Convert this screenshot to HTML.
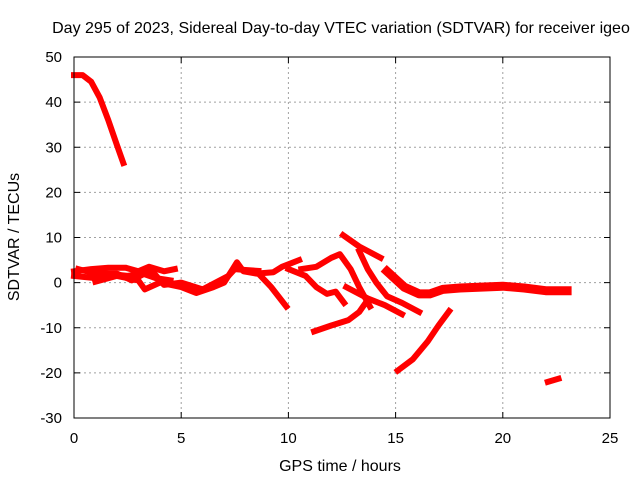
<!DOCTYPE html>
<html><head><meta charset="utf-8"><style>
body{margin:0;background:#fff}
svg text{font-family:"Liberation Sans",sans-serif;font-size:15px;fill:#000}
svg text.big{font-size:16px}
</style></head><body>
<svg id="chart" width="640" height="480" xmlns="http://www.w3.org/2000/svg">
<text class="big" x="341" y="33" text-anchor="middle">Day 295 of 2023, Sidereal Day-to-day VTEC variation (SDTVAR) for receiver igeo</text>
<text class="big" x="340" y="471" text-anchor="middle">GPS time / hours</text>
<text class="big" transform="translate(19,237) rotate(-90)" text-anchor="middle">SDTVAR / TECUs</text>
<g id="grid"></g>
<g id="series"></g>
<rect x="74" y="57" width="536" height="361" fill="none" stroke="#000" stroke-width="1"/>
<g id="ticks"></g>
</svg>
<script>
const xTicks=[0,5,10,15,20,25];
const yTicks=[-30,-20,-10,0,10,20,30,40,50];
const trackTop=[[0,46],[0.4,46],[0.8,44.5],[1.2,41],[1.6,36],[2.0,30.5],[2.3,26.5]];
const trackBandUpper=[[0,2.5],[0.8,3],[1.6,3.3],[2.4,3.3],[3,2.5],[3.5,3.5],[4.2,2.5],[4.7,3]];
const trackBandMid=[[0,1.5],[1,1],[1.5,2],[2.5,1.5],[3.2,2],[3.8,1],[4.5,0.5]];
const trackBandLower=[[1,0.2],[2,1.5],[3,0.5],[3.3,-1.5],[4,0],[5,-1],[5.7,-2.3],[6.5,-1],[7,0],[7.4,3],[7.6,4.5],[7.9,2.5],[8.5,2],[9.3,2.3],[9.7,3.5],[10.5,5]];
const trackBandExtra=[[0.2,3],[1,2],[2,2],[2.7,0.5],[3.6,2.8],[4.2,-0.5],[5,0],[6,-1.5],[6.8,0.5],[7.2,1.5],[7.5,3],[8,2.8],[8.6,2.6]];
const trackBranch1=[[8.6,2],[9.2,-1],[9.9,-5.3]];
const trackBranch2=[[10,3],[10.8,1.5],[11.3,-1],[11.8,-2.5],[12.2,-2],[12.6,-4.5]];
const trackBranch3=[[10.6,3],[11.3,3.5],[12.0,5.5],[12.4,6.3],[12.9,3],[13.3,-1],[13.8,-5.3]];
const trackBranch4=[[12.55,10.5],[13.3,8],[14.3,5.5]];
const trackBranch5=[[13.3,7],[13.7,3],[14.1,0],[14.6,-3],[15.3,-4.5],[16.1,-6.5]];
const trackBranch6=[[12.7,-1],[13.7,-3.5],[14.5,-5],[15.3,-7]];
const trackBranch7=[[11.2,-10.8],[12,-9.5],[12.8,-8.3],[13.3,-6.5],[13.6,-4.5]];
const trackTail=[[14.6,2.5],[15.4,-1],[16.1,-2.5],[16.6,-2.5],[17.2,-1.5],[18,-1.2],[19,-1],[20,-0.8],[21,-1.2],[22,-1.8],[23,-1.8]];
const trackLow=[[15.1,-19.5],[15.8,-17],[16.5,-13],[17.0,-9.5],[17.5,-6.3]];
const trackSmall=[[22.1,-22],[22.6,-21.3]];
const tracks=[trackTop,trackBandUpper,trackBandMid,trackBandLower,trackBandExtra,trackBranch1,trackBranch2,trackBranch3,trackBranch4,trackBranch5,trackBranch6,trackBranch7,trackTail,trackLow,trackSmall];
const X0=74,X1=610,Y0=418,Y1=57;
function xs(h){return X0+(h-0)/(25-0)*(X1-X0);}
function ys(v){return Y0-(v+30)/(80)*(Y0-Y1);}
const NS='http://www.w3.org/2000/svg';
const grid=document.getElementById('grid'),ticks=document.getElementById('ticks'),ser=document.getElementById('series');
function mk(tag,attrs,parent){const e=document.createElementNS(NS,tag);for(const k in attrs)e.setAttribute(k,attrs[k]);parent.appendChild(e);return e;}
xTicks.forEach(t=>{const x=xs(t);
 if(t>0&&t<25){const g=mk('line',{x1:x,x2:x,y1:Y1,y2:Y0,stroke:'#a0a0a0','stroke-dasharray':'2,3'},grid);}
 const a=mk('line',{x1:x,x2:x,y1:Y0,y2:Y0-6,stroke:'#000'},ticks);
 const b=mk('line',{x1:x,x2:x,y1:Y1,y2:Y1+6,stroke:'#000'},ticks);
 const l=mk('text',{x:x,y:443,'text-anchor':'middle'},ticks);l.textContent=t;});
yTicks.forEach(t=>{const y=ys(t);
 if(t>-30&&t<50){const g=mk('line',{x1:X0,x2:X1,y1:y,y2:y,stroke:'#a0a0a0','stroke-dasharray':'2,3'},grid);}
 const a=mk('line',{x1:X0,x2:X0+6,y1:y,y2:y,stroke:'#000'},ticks);
 const b=mk('line',{x1:X1,x2:X1-6,y1:y,y2:y,stroke:'#000'},ticks);
 const l=mk('text',{x:62,y:y+5,'text-anchor':'end'},ticks);l.textContent=t;});
tracks.forEach((tr,i)=>{
 const pts=tr.map(p=>xs(p[0]).toFixed(1)+','+ys(p[1]).toFixed(1)).join(' ');
 const w=(tr===trackTail)?9:6;
 const p=mk('polyline',{points:pts,fill:'none',stroke:'#ff0000','stroke-width':w,'stroke-linejoin':'round','stroke-linecap':'square'},ser);
 
 
});
</script>
</body></html>
